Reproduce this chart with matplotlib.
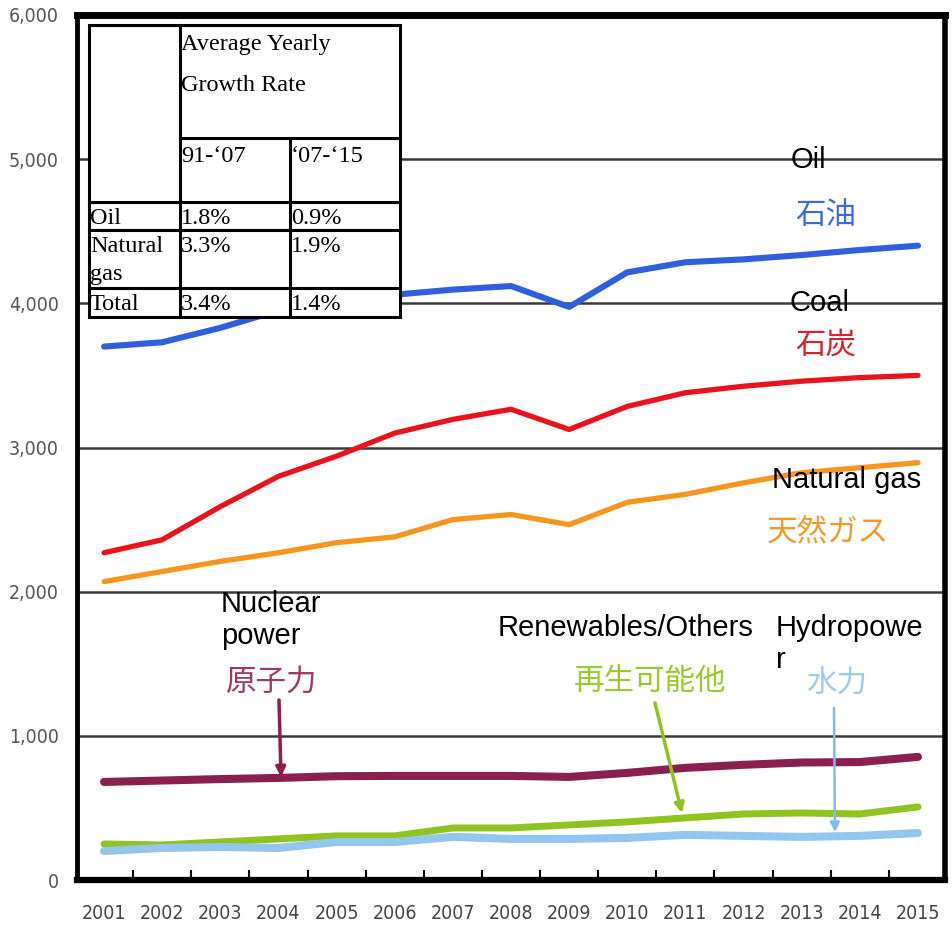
import os
import matplotlib
matplotlib.use("Agg")
import matplotlib.pyplot as plt
from matplotlib import font_manager as fm
from matplotlib.font_manager import FontProperties
from matplotlib.ticker import FuncFormatter, FixedLocator
from matplotlib.patches import Rectangle

# ---------------- data ----------------
years = list(range(2001, 2016))
oil = [3700, 3730, 3830, 3950, 4010, 4060, 4095, 4120, 3975, 4215, 4285, 4305, 4335, 4370, 4400]
coal = [2270, 2360, 2590, 2800, 2940, 3100, 3195, 3265, 3125, 3285, 3380, 3425, 3460, 3485, 3500]
gas = [2070, 2140, 2210, 2270, 2340, 2380, 2500, 2535, 2465, 2620, 2675, 2755, 2825, 2860, 2895]
nuclear = [680, 690, 700, 708, 720, 722, 722, 722, 715, 743, 778, 799, 815, 818, 854]
renewables = [250, 243, 264, 285, 306, 306, 361, 361, 382, 403, 431, 458, 465, 458, 507]
hydro = [201, 222, 229, 222, 264, 264, 299, 285, 285, 292, 313, 306, 299, 306, 326]

y_ticks = [0, 1000, 2000, 3000, 4000, 5000, 6000]

table_header = "Average Yearly\n\nGrowth Rate"
table_periods = ["91-\u201807", "\u201807-\u201815"]
table_rows = ["Oil", "Natural\ngas", "Total"]
table_p1 = ["1.8%", "3.3%", "3.4%"]
table_p2 = ["0.9%", "1.9%", "1.4%"]


# ---------------- condensed font for tick labels ----------------
def find_condensed():
    prefs = ["notosans-extracondensed.ttf", "notosans-condensed.ttf",
             "liberationsansnarrow-regular.ttf", "dejavusanscondensed.ttf",
             "roboto-condensed", "robotocondensed-regular.ttf"]
    files = [f.fname for f in fm.fontManager.ttflist]
    for p in prefs:
        for fn in files:
            b = os.path.basename(fn).lower()
            if b == p or b.startswith(p):
                return fn
    return None


cfile = find_condensed()
if cfile:
    tick_fp = FontProperties(fname=cfile, size=14)
else:
    tick_fp = FontProperties(family="Roboto", size=12)

# ---------------- figure ----------------
W, H = 953, 925
fig = plt.figure(figsize=(W / 100, H / 100), dpi=100)
L, R, T, B = 77, 945, 15, 880
ax = fig.add_axes([L / W, 1 - B / H, (R - L) / W, (B - T) / H])

ax.set_xlim(2000.535, 2015.465)
ax.set_ylim(0, 6000)

series = [
    (oil, "#2f5fdc", 4.4),
    (coal, "#e8141c", 3.8),
    (gas, "#f7961e", 3.8),
    (nuclear, "#8a1f50", 5.8),
    (renewables, "#8fc31f", 5.0),
    (hydro, "#92c6ef", 5.8),
]
for vals, col, lw in series:
    ax.plot(years, vals, color=col, lw=lw, solid_capstyle="round",
            solid_joinstyle="round", zorder=3)

# grid
ax.set_yticks(y_ticks)
ax.yaxis.grid(True, color="#3a3a3a", lw=1.8, zorder=1)
ax.set_axisbelow(True)
ax.tick_params(axis="y", length=0, pad=13, labelcolor="#555555")
ax.yaxis.set_major_formatter(FuncFormatter(lambda v, p: f"{int(v):,}"))
for lab in ax.get_yticklabels():
    lab.set_fontproperties(tick_fp)

ax.set_xticks(years)
ax.set_xticklabels([str(y) for y in years], color="#444444")
for lab in ax.get_xticklabels():
    lab.set_fontproperties(tick_fp)
ax.tick_params(axis="x", which="major", length=0, pad=17)
ax.xaxis.set_minor_locator(FixedLocator([y + 0.5 for y in years[:-1]]))
ax.tick_params(axis="x", which="minor", direction="in", length=7, width=1.5,
               color="black")

for side, lw in [("left", 3.5), ("top", 5), ("right", 4), ("bottom", 4.5)]:
    ax.spines[side].set_linewidth(lw)
    ax.spines[side].set_color("black")

# ---------------- overlay in pixel coordinates ----------------
ov = fig.add_axes([0, 0, 1, 1], zorder=5)
ov.set_xlim(0, W)
ov.set_ylim(H, 0)
ov.axis("off")
ov.patch.set_alpha(0)

# table
tx0, tx1, tx2, tx3 = 89, 180, 290, 400
ty0, ty1, ty2, ty3, ty4, ty5 = 25, 138, 202, 230, 288, 317
ov.add_patch(Rectangle((tx0, ty0), tx3 - tx0, ty5 - ty0, facecolor="white",
                       edgecolor="black", lw=2.2, zorder=1))
lk = dict(color="black", lw=2.2, zorder=2)
ov.plot([tx1, tx1], [ty0, ty5], **lk)
ov.plot([tx2, tx2], [ty1, ty5], **lk)
ov.plot([tx1, tx3], [ty1, ty1], **lk)
for yy in (ty2, ty3, ty4):
    ov.plot([tx0, tx3], [yy, yy], **lk)

serif = dict(family=["Liberation Serif", "DejaVu Serif"], fontsize=17.5,
             color="black", zorder=3)
ov.text(tx1 + 1, 34, table_header, va="top", ha="left", linespacing=0.98, **serif)
ov.text(tx1 + 1, ty1 + 8, table_periods[0], va="top", ha="left", **serif)
ov.text(tx2 + 1, ty1 + 8, table_periods[1], va="top", ha="left", **serif)
row_tops = [ty2, ty3, ty4]
for top, name, v1, v2 in zip(row_tops, table_rows, table_p1, table_p2):
    ov.text(tx0 + 1, top + 6, name, va="top", ha="left", linespacing=1.45, **serif)
    ov.text(tx1 + 1, top + 6, v1, va="top", ha="left", **serif)
    ov.text(tx2 + 1, top + 6, v2, va="top", ha="left", **serif)

# labels
sans = dict(family=["Liberation Sans", "DejaVu Sans"], fontsize=21, color="black")
cjk = ["Noto Sans CJK JP", "DejaVu Sans"]
ov.text(808, 160, "Oil", ha="center", va="center", **sans)
ov.text(826, 216, "石油", ha="center", va="center", family=cjk, fontsize=22, color="#3a6ddb")
ov.text(820, 303, "Coal", ha="center", va="center", **sans)
ov.text(826, 345, "石炭", ha="center", va="center", family=cjk, fontsize=22, color="#d8222c")
ov.text(847, 480, "Natural gas", ha="center", va="center", **sans)
ov.text(828, 533, "天然ガス", ha="center", va="center", family=cjk, fontsize=22, color="#f39a2a")
ov.text(221, 620, "Nuclear\npower", ha="left", va="center", linespacing=1.15, **sans)
ov.text(272, 682, "原子力", ha="center", va="center", family=cjk, fontsize=22, color="#a03a6a")
ov.text(626, 628, "Renewables/Others", ha="center", va="center", **sans)
ov.text(650, 682, "再生可能他", ha="center", va="center", family=cjk, fontsize=22, color="#9acb2c")
ov.text(776, 628, "Hydropowe", ha="left", va="center", **sans)
ov.text(776, 660, "r", ha="left", va="center", **sans)
ov.text(837, 684, "水力", ha="center", va="center", family=cjk, fontsize=22, color="#9ccaf1")

# arrows
for tail, tip, col, lw in [((279, 700), (281, 777), "#8a1f50", 2.5),
                           ((655, 703), (682, 813), "#8fc31f", 2.5),
                           ((834, 708), (835, 832), "#7fbcee", 1.8)]:
    ov.annotate("", xy=tip, xytext=tail,
                arrowprops=dict(arrowstyle="-|>", color=col, lw=lw,
                                mutation_scale=14, shrinkA=0, shrinkB=0))

fig.savefig("out.png", dpi=100)
